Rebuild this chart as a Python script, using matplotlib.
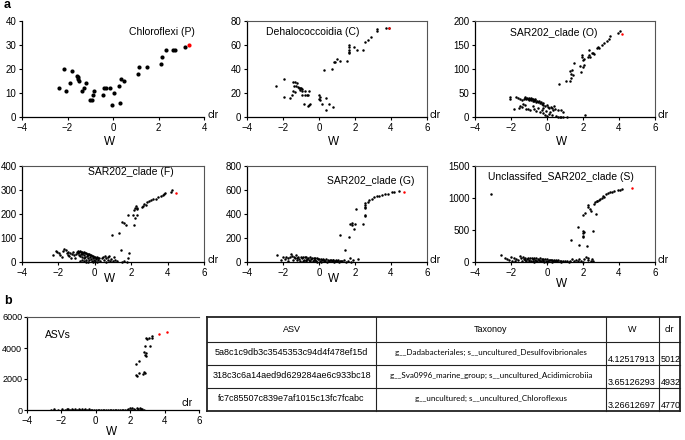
import matplotlib
matplotlib.use('Agg')
import matplotlib.pyplot as plt

plt.rcParams['font.family'] = ['Liberation Sans', 'DejaVu Sans']
plt.rcParams['font.size'] = 7

# ---------------- data ----------------
# Chloroflexi (P)
P_x = [-2.36, -2.17, -2.05, -1.9, -1.79, -1.57, -1.55, -1.54, -1.5, -1.36, -1.26, -1.17, -1.01, -0.91, -0.89,
       -0.84, -0.42, -0.38, -0.31, -0.13, -0.06, 0.03, 0.26, 0.31, 0.37, 0.48, 1.08, 1.16, 1.48, 2.11, 2.14,
       2.33, 2.65, 2.73, 3.16]
P_y = [12, 20, 11, 14, 19, 17, 16.5, 16, 15, 11, 12, 14, 7, 7, 9,
       11, 9, 12, 12, 12, 5, 10, 13, 6, 16, 15, 18, 21, 21, 22, 25,
       28, 28, 28, 29]
P_red = (3.36, 30)

# Dehalococcoidia (C)
C_x = [-2.40, -1.92, -1.92, -1.63, -1.51, -1.44, -1.42, -1.33, -1.25, -1.37, -1.29, -1.18, -1.1, -1.05, -1.0,
       -1.05, -0.96, -0.92, -1.33, -0.92, -0.77, -0.68, -0.59, -0.77, -0.53, -0.81, -0.62, -0.55, -0.51,
       0.0, 0.03, 0.07, 0.0, 0.16, 0.40, 0.40, 0.58, 0.77,
       0.30, 0.71, 0.81, 0.9, 1.0, 1.14, 1.53, 1.64, 1.64, 1.64, 1.64, 1.68, 1.92, 2.12, 2.44, 2.57, 2.72,
       2.88, 3.22, 3.22, 3.74, 3.87]
C_y = [26, 32, 17, 16, 18, 22, 29, 29, 28.6, 26, 25.5, 25, 24.4, 24, 24.4,
       22.8, 23, 22, 21, 18.6, 18.6, 18, 18, 22, 22, 11, 9, 10, 10.5,
       18, 17, 14.5, 15, 11, 16, 6, 11, 8,
       39, 40, 46, 46, 48, 47, 47, 60, 58, 56, 54, 53, 58, 55.6, 55.6, 62.5, 64.5,
       67, 71.7, 73.3, 74.4, 74.4]
C_red = (3.90, 74.4)

# SAR202_clade (O)
O_x = [0.65, 1.06, 1.28, 1.31, 1.28, 1.37, 1.33, 1.46, 1.52, 1.83, 1.87, 2.02, 2.06, 1.93, 1.96, 2.02, 2.07,
       2.26, 2.33, 2.48, 2.39, 2.33, 2.57, 2.63, 2.76, 2.85, 2.91, 3.04, 3.17, 3.31, 3.46, 3.5, 3.96, 4.06,
       -1.2, -1.15, -1.1, -1.05, -1.0, -0.98, -0.95, -0.9, -0.88, -0.85, -0.8, -0.78, -0.75, -0.7, -0.68,
       -0.65, -0.6, -0.55, -0.5, -0.45, -0.4, -0.35, -0.3, -0.25, -0.2, -0.1, 0.0, 0.05, 0.1, 0.2, 0.3,
       0.4, 0.45, 0.6, 0.8, 0.9,
       -1.83, -1.55, -1.5, -1.35, -1.22, -1.41, -1.19, -1.04, -0.94, -0.8, -0.7, -0.6, -0.5, -0.4, -0.3,
       -0.2, -0.1, -0.05, 0.0, 0.1, 0.15, 0.3, 0.5, 0.6, 0.7, 0.75, 0.9, 1.1, 2.11, 0.35, -0.25,
       -2.06, -2.06, -1.72, -1.6, -1.48, -1.3, -1.25, -1.4]
O_y = [68, 74, 76, 81, 96, 97, 90, 87, 112, 105.6, 94, 104, 109, 125, 130, 119, 121.5,
       126, 130, 133, 125, 139, 134, 130.5, 144, 146, 144, 151, 154, 158, 163, 168, 174, 179,
       40, 38, 39, 37, 40, 36, 38, 35, 39, 37, 34, 38, 36, 33, 35,
       37, 32, 34, 31, 33, 29, 31, 27, 30, 25, 22, 24, 20, 18, 21, 19,
       22, 16, 15, 14, 11,
       17, 19, 22, 28, 26, 21, 17, 17, 14, 22, 16, 12, 18, 10, 14,
       8, 5, 12, 3, 6, 10, 4, 2, 1, 1, 0.5, 0.5, 0, 4, 14, 18,
       42, 37, 42, 40, 38, 38, 41, 36]
O_red = (4.15, 172)

# SAR202_clade (F)
F_x = [0.96, 1.35, 1.48, 1.6, 1.7, 1.8, 2.08, 2.15, 2.17, 2.21, 2.21, 2.3, 2.34, 2.26, 2.3, 2.58, 2.63,
       2.7, 2.8, 2.85, 2.98, 3.07, 3.22, 3.34, 3.49, 3.62, 3.77, 3.82, 3.86, 4.19, 4.26,
       -2.3, -2.15, -2.05, -1.95, -1.9, -1.8, -1.75, -1.68, -1.6, -1.55, -1.5, -1.45, -1.4, -1.35, -1.3,
       -1.25, -1.2, -1.15, -1.1, -1.05,
       -1.0, -0.95, -0.9, -0.88, -0.85, -0.82, -0.8, -0.78, -0.75, -0.72, -0.7, -0.68, -0.65, -0.62, -0.6,
       -0.58, -0.55, -0.52, -0.5, -0.48, -0.45, -0.42, -0.4, -0.38, -0.35, -0.32, -0.3, -0.28, -0.25, -0.22,
       -0.2, -0.18, -0.15, -0.12, -0.1, -0.08, -0.05, -0.02, 0.0, 0.02, 0.05, 0.08, 0.1, 0.12, 0.15, 0.2,
       0.25, 0.3,
       0.4, 0.45, 0.5, 0.55, 0.6, 0.62, 0.7, 0.75, 0.8, 0.85, 0.9, 1.0, 1.05, 1.1, 1.2, 1.42, 1.5, 1.6,
       1.75, 1.85, 1.88, -0.8, -0.6, -0.4, -0.7, -0.5]
F_y = [114, 122, 167, 164, 153, 194, 194, 153, 215, 225, 183, 222, 197, 232, 225, 229, 233,
       243, 239, 250, 253, 257, 261, 264, 271, 275, 281, 285, 287, 292, 299,
       30, 44, 40, 38, 28, 22, 45, 55, 48, 36, 30, 42, 25, 38, 18,
       32, 42, 28, 15, 35,
       40, 44, 38, 30, 42, 25, 45, 35, 40, 20, 43, 32, 38, 15, 40,
       28, 36, 22, 38, 10, 33, 26, 35, 18, 30, 8, 32, 22, 28, 12,
       30, 4, 24, 16, 26, 2, 20, 10, 22, 5, 18, 12, 20, 2, 15, 8,
       16, 3,
       15, 22, 8, 25, 18, 2, 22, 10, 27, 5, 14, 3, 20, 8, 3, 51, 2, 4,
       2, 15, 39, 5, 3, 2, 10, 0]
F_red = (4.44, 289)

# SAR202_clade (G)
G_x = [1.19, 1.42, 1.68, 1.7, 1.83, 1.86, 1.92, 2.01, 2.05, 2.42, 2.53, 2.57, 2.53, 2.53, 2.57, 2.53,
       2.7, 2.8, 2.93, 3.07, 3.2, 3.35, 3.5, 3.68, 3.85, 4.07, 4.16, 4.46,
       -2.35, -2.1, -2.0, -1.9, -1.85, -1.75, -1.7, -1.6, -1.55, -1.5, -1.45, -1.4, -1.35, -1.3, -1.25,
       -1.2, -1.15, -1.1, -1.05,
       -1.0, -0.95, -0.9, -0.85, -0.8, -0.75, -0.7, -0.65, -0.6, -0.55, -0.5, -0.45, -0.4, -0.35, -0.3,
       -0.25, -0.2, -0.15, -0.1, -0.05, 0.0, 0.05, 0.1, 0.15, 0.2, 0.25, 0.3, 0.35, 0.4, 0.45, 0.5, 0.55,
       0.6, 0.65, 0.7, 0.75, 0.8, 0.85, 0.9, 0.95, 1.0, 1.05, 1.1, 1.15, 1.2, 1.3, 1.4, 1.5, 1.6, 1.7,
       1.75, 1.9, 2.16, -0.9, -0.7, -0.5, -0.3, -0.1, 0.1]
G_y = [222, 103, 208, 314, 311, 328, 278, 314, 444, 314, 383, 394, 458, 478, 494, 450,
       500, 514, 528, 542, 547, 550, 556, 567, 569, 583, 583, 592,
       56, 15, 40, 25, 45, 30, 10, 38, 65, 50, 20, 42, 30, 55, 15,
       35, 45, 25, 8,
       40, 30, 45, 20, 38, 10, 42, 28, 35, 15, 40, 25, 36, 5, 32,
       20, 34, 12, 30, 22, 28, 8, 25, 15, 24, 5, 20, 12, 22, 3, 18, 10,
       15, 20, 5, 14, 18, 2, 12, 16, 8, 15, 3, 12, 10, 5, 14, 2, 8, 30,
       4, 15, 28, 10, 20, 5, 15, 0, 2]
G_red = (4.7, 583)

# Unclassifed_SAR202_clade (S)
S_x = [-3.13, 1.31, 1.7, 1.8, 1.98, 2.02, 2.02, 2.07, 2.02, 2.2, 2.54, 2.02, 2.1, 2.26, 2.3, 2.39, 2.44,
       2.7, 2.63, 2.67, 2.75, 2.8, 2.88, 2.96, 3.04, 3.13, 3.18, 3.3, 3.4, 3.5, 3.59, 3.74, 3.93, 4.06, 4.19,
       -2.55, -2.35, -2.25, -2.1, -2.0, -1.95, -1.85, -1.8, -1.7, -1.6, -1.5, -1.45, -1.4, -1.35, -1.3,
       -1.25, -1.2, -1.15, -1.1,
       -1.05, -1.0, -0.95, -0.9, -0.85, -0.8, -0.75, -0.7, -0.65, -0.6, -0.55, -0.5, -0.45, -0.4, -0.35,
       -0.3, -0.25, -0.2, -0.15, -0.1, -0.05, 0.0, 0.05, 0.1, 0.15, 0.2, 0.25, 0.3, 0.35, 0.4, 0.45, 0.5,
       0.55, 0.6, 0.7, 0.75, 0.8, 0.9, 1.0, 1.1, 1.2, 1.3, 1.4, 1.5, 1.6, 1.7, 1.8, 1.9, 2.0, 2.07, 2.15,
       2.25, 2.3, 2.45, 2.5, 2.55, -0.8, -0.6, -0.4, -0.2, 0.0, -1.0]
S_y = [1060, 336, 543, 269, 491, 455, 414, 476, 388, 248, 491, 734, 760, 853, 889, 827, 801,
       750, 910, 930, 950, 960, 975, 990, 1000, 1034, 1015, 1060, 1075, 1090, 1100, 1115, 1125, 1130, 1140,
       110, 70, 45, 30, 80, 20, 55, 10, 40, 25, 100, 60, 15, 80, 45,
       30, 65, 10, 50,
       70, 35, 60, 20, 65, 45, 5, 55, 30, 60, 15, 50, 35, 55, 10,
       45, 25, 48, 5, 40, 20, 42, 12, 35, 25, 38, 3, 30, 18, 32, 8, 28,
       15, 25, 10, 22, 5, 18, 12, 20, 3, 15, 40, 8, 30, 12, 45, 20, 5, 52, 85,
       30, 70, 10, 45, 20, 15, 8, 20, 12, 2, 10]
S_red = (4.7, 1153)

# ASVs
A_x = [2.33, 2.53, 2.35, 2.42, 2.52, 2.76, 2.82, 2.86, 2.8, 2.86, 2.89, 2.91, 2.86, 2.89, 2.99, 3.08,
       3.18, 3.27, 3.26612697,
       -2.6, -2.42, -2.2, -1.95, -1.8, -1.7, -1.6, -1.5, -1.4, -1.3, -1.2, -1.1, -1.0, -0.9, -0.8, -0.7,
       -0.6, -0.5, -0.4, -0.3, -0.2, -0.1, 0.0, 0.1, 0.2, 0.3, 0.4, 0.5, 0.6, 0.7, 0.8, 0.9, 1.0, 1.1, 1.2,
       1.3, 1.4, 1.5, 1.6, 1.7, 1.8, 1.9, 2.0, 2.05, 2.1, 2.2, 2.3, 2.4, 2.45, 2.55, 2.6, 2.7, 2.8]
A_y = [3000, 3130, 2271, 2164, 2357, 2314, 2443, 2378, 3770, 3557, 3514, 3664, 4136, 4628, 4564, 4670,
       4136, 4628, 4770,
       30, 86, 20, 60, 10, 80, 40, 15, 50, 5, 60, 25, 45, 10, 55, 20,
       40, 5, 35, 15, 30, 8, 28, 12, 25, 4, 20, 10, 18, 3, 15, 8, 12, 2, 10,
       14, 5, 8, 12, 3, 25, 60, 100, 30, 140, 70, 20, 160, 90, 120, 40, 60, 10]
A_red_x = [3.65126293, 4.12517913]
A_red_y = [4932, 5012]

# table
tab_header = ['ASV', 'Taxonoy', 'W', 'clr']
tab_asv = ['5a8c1c9db3c3545353c94d4f478ef15d', '318c3c6a14aed9d629284ae6c933bc18',
           'fc7c85507c839e7af1015c13fc7fcabc']
tab_tax = ['g__Dadabacteriales; s__uncultured_Desulfovibrionales',
           'g__Sva0996_marine_group; s__uncultured_Acidimicrobiia',
           'g__uncultured; s__uncultured_Chloroflexus']
tab_w = ['4.12517913', '3.65126293', '3.26612697']
tab_clr = ['5012', '4932', '4770']

# ---------------- drawing ----------------
W, H = 685, 440
fig = plt.figure(figsize=(6.85, 4.4), dpi=100)


def add_ax(l, t, r, b):
    return fig.add_axes([l / W, 1 - b / H, (r - l) / W, (b - t) / H])


def style(ax, xlim, xticks, ylim, yticks, box):
    ax.set_xlim(*xlim)
    ax.set_ylim(*ylim)
    ax.set_xticks(xticks)
    ax.set_yticks(yticks)
    ax.tick_params(direction='out', length=2.5, width=0.8, pad=1.5, labelsize=7, colors='black')
    for s in ['left', 'bottom']:
        ax.spines[s].set_linewidth(0.9)
        ax.spines[s].set_color('black')
    for s in ['top', 'right']:
        if box:
            ax.spines[s].set_linewidth(0.8)
            ax.spines[s].set_color('#555555')
        else:
            ax.spines[s].set_visible(False)
    ax.patch.set_alpha(0)


panels = [
    dict(rect=(22, 21, 204, 117), x=P_x, y=P_y, rx=[P_red[0]], ry=[P_red[1]], xlim=(-4, 4),
         xt=[-4, -2, 0, 2, 4], ylim=(0, 40), yt=[0, 10, 20, 30, 40], box=False, s=9,
         title='Chloroflexi (P)', tpos=(0.95, 0.885), ha='right', wy=142),
    dict(rect=(247, 21, 427, 117), x=C_x, y=C_y, rx=[C_red[0]], ry=[C_red[1]], xlim=(-4, 6),
         xt=[-4, -2, 0, 2, 4, 6], ylim=(0, 80), yt=[0, 20, 40, 60, 80], box=True, s=3.2,
         title='Dehalococcoidia (C)', tpos=(0.105, 0.885), ha='left', wy=142),
    dict(rect=(475, 21, 655, 117), x=O_x, y=O_y, rx=[O_red[0]], ry=[O_red[1]], xlim=(-4, 6),
         xt=[-4, -2, 0, 2, 4, 6], ylim=(0, 200), yt=[0, 50, 100, 150, 200], box=True, s=3.2,
         title='SAR202_clade (O)', tpos=(0.194, 0.875), ha='left', wy=142),
    dict(rect=(22, 166, 204, 262), x=F_x, y=F_y, rx=[F_red[0]], ry=[F_red[1]], xlim=(-4, 6),
         xt=[-4, -2, 0, 2, 4, 6], ylim=(0, 400), yt=[0, 100, 200, 300, 400], box=True, s=3.2,
         title='SAR202_clade (F)', tpos=(0.363, 0.94), ha='left', wy=279),
    dict(rect=(247, 166, 427, 262), x=G_x, y=G_y, rx=[G_red[0]], ry=[G_red[1]], xlim=(-4, 6),
         xt=[-4, -2, 0, 2, 4, 6], ylim=(0, 800), yt=[0, 200, 400, 600, 800], box=True, s=3.2,
         title='SAR202_clade (G)', tpos=(0.444, 0.84), ha='left', wy=279),
    dict(rect=(475, 166, 655, 262), x=S_x, y=S_y, rx=[S_red[0]], ry=[S_red[1]], xlim=(-4, 6),
         xt=[-4, -2, 0, 2, 4, 6], ylim=(0, 1500), yt=[0, 500, 1000, 1500], box=True, s=3.2,
         title='Unclassifed_SAR202_clade (S)', tpos=(0.072, 0.885), ha='left', wy=284),
]

for p in panels:
    l, t, r, b = p['rect']
    ax = add_ax(l, t, r, b)
    ax.scatter(p['x'], p['y'], s=p['s'], c='black', linewidths=0, clip_on=False, zorder=3)
    ax.scatter(p['rx'], p['ry'], s=p['s'], c='#ff0000', linewidths=0, clip_on=False, zorder=4)
    style(ax, p['xlim'], p['xt'], p['ylim'], p['yt'], p['box'])
    ax.text(p['tpos'][0], p['tpos'][1], p['title'], transform=ax.transAxes, ha=p['ha'],
            va='center', fontsize=7.5)
    ax.text(1.0 + 3 / (r - l), 0.02, 'clr', transform=ax.transAxes, ha='left', va='center', fontsize=7.5)
    fig.text(((l + r) / 2 - 3) / W, 1 - p['wy'] / H, 'W', ha='center', va='center', fontsize=8.5)

# panel b scatter
l, t, r, b = 27, 317, 199, 410
axb = add_ax(l, t, r, b)
axb.scatter(A_x, A_y, s=3.2, c='black', linewidths=0, zorder=3)
axb.scatter(A_red_x, A_red_y, s=3.2, c='#ff0000', linewidths=0, zorder=4)
style(axb, (-4, 6), [-4, -2, 0, 2, 4, 6], (0, 6000), [0, 2000, 4000, 6000], False)
axb.tick_params(axis='y', labelsize=6.5, pad=1)
axb.spines['top'].set_visible(True)
axb.spines['top'].set_linewidth(0.8)
axb.spines['top'].set_color('#555555')
axb.text(0.107, 0.806, 'ASVs', transform=axb.transAxes, ha='left', va='center', fontsize=7.5)
axb.text(0.9, 0.07, 'clr', transform=axb.transAxes, ha='left', va='center', fontsize=7.5)
fig.text(112 / W, 1 - 432 / H, 'W', ha='center', va='center', fontsize=8.5)

# panel letters
fig.text(4 / W, 1 - 5 / H, 'a', fontsize=9, fontweight='bold', ha='left', va='center')
fig.text(4 / W, 1 - 301 / H, 'b', fontsize=9, fontweight='bold', ha='left', va='center')

# table
tl, tt, tr, tb = 207, 317, 680, 411
axt = fig.add_axes([tl / W, 1 - tb / H, (tr - tl) / W, (tb - tt) / H])
axt.set_xlim(tl, tr)
axt.set_ylim(tb, tt)
axt.axis('off')
cols = [207, 376, 606, 659, 680]
rows = [317, 342, 365, 388, 411]
for x in cols:
    lw = 1.3 if x in (cols[0], cols[-1]) else 0.8
    axt.plot([x, x], [rows[0], rows[-1]], color='#222222', lw=lw, clip_on=False, solid_capstyle='projecting')
for y in rows:
    lw = 1.3 if y in (rows[0], rows[-1]) else 0.8
    axt.plot([cols[0], cols[-1]], [y, y], color='#222222', lw=lw, clip_on=False, solid_capstyle='projecting')
for i, h in enumerate(tab_header):
    axt.text((cols[i] + cols[i + 1]) / 2, (rows[0] + rows[1]) / 2, h, ha='center', va='center', fontsize=6.5)
for j in range(3):
    y0, y1 = rows[j + 1], rows[j + 2]
    axt.text((cols[0] + cols[1]) / 2, (y0 + y1) / 2 - 1, tab_asv[j], ha='center', va='center', fontsize=6.5)
    axt.text((cols[1] + cols[2]) / 2, (y0 + y1) / 2 - 1, tab_tax[j], ha='center', va='center',
             fontsize=5.8, family=['Lato', 'DejaVu Sans'])
    axt.text(cols[2] + 1.5, y1 - 1.5, tab_w[j], ha='left', va='bottom', fontsize=6.5)
    axt.text(cols[3] + 1.5, y1 - 1.5, tab_clr[j], ha='left', va='bottom', fontsize=6.5)

fig.savefig('out.png', dpi=100)
